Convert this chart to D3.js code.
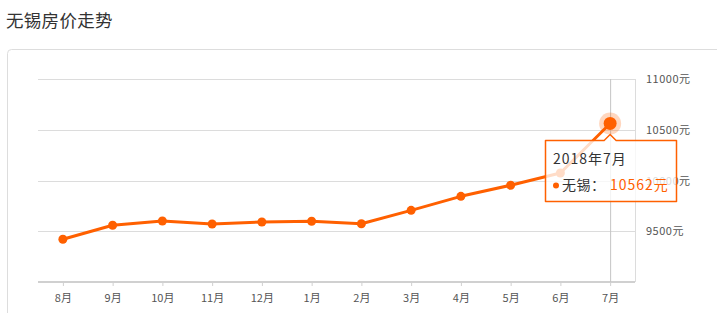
<!DOCTYPE html>
<html>
<head>
<meta charset="utf-8">
<script src="https://cdn.jsdelivr.net/npm/d3@7"></script>
<style>
  html, body { margin: 0; padding: 0; background: #fff; }
  svg { display: block; font-family: "Noto Sans CJK SC", "Noto Sans", sans-serif; }
</style>
</head>
<body>
<svg id="chart" width="717" height="313"></svg>
<script>
// chart data
const months = ["8月", "9月", "10月", "11月", "12月", "1月", "2月", "3月", "4月", "5月", "6月", "7月"];
const prices = [9421, 9559, 9601, 9571, 9591, 9598, 9574, 9706, 9844, 9953, 10074, 10562];
const yTicks = [9500, 10000, 10500, 11000];
const cityName = "无锡";
const tipTitle = "2018年7月";

const orange = "#ff6000";
const svg = d3.select("#chart");

// title + card frame
svg.append("text")
    .attr("x", 6).attr("y", 27)
    .attr("font-size", 17.5).attr("letter-spacing", 0.3).attr("fill", "#333")
    .text("无锡房价走势");

svg.append("rect")
    .attr("x", 7.5).attr("y", 49.5)
    .attr("width", 740).attr("height", 300)
    .attr("rx", 4)
    .attr("fill", "#fff").attr("stroke", "#ddd");

// scales
const x = d3.scalePoint().domain(months).range([38, 635]).padding(0.5);
const y = d3.scaleLinear().domain([9000, 11000]).range([282, 79]);

// horizontal grid
svg.append("g")
  .selectAll("line")
  .data(yTicks)
  .join("line")
    .attr("x1", 38).attr("x2", 635)
    .attr("y1", d => Math.round(y(d)) + 0.5)
    .attr("y2", d => Math.round(y(d)) + 0.5)
    .attr("stroke", "#dcdcdc");

// right border of plot
svg.append("line")
    .attr("x1", 635.5).attr("x2", 635.5)
    .attr("y1", 79).attr("y2", 282)
    .attr("stroke", "#dcdcdc");

// right axis labels
const yAxis = d3.axisRight(y).tickValues(yTicks).tickSize(0).tickPadding(0)
    .tickFormat(d => d + "元");
svg.append("g")
    .attr("transform", "translate(646,0)")
    .call(yAxis)
    .call(g => g.select(".domain").remove())
    .selectAll("text")
      .attr("font-size", 11).attr("letter-spacing", 0.5).attr("fill", "#555")
      .attr("font-family", "'Noto Sans CJK SC', sans-serif");

// bottom axis
const xAxis = d3.axisBottom(x).tickSize(4).tickSizeOuter(0).tickPadding(8);
svg.append("g")
    .attr("transform", "translate(0,282)")
    .call(xAxis)
    .call(g => g.select(".domain")
        .attr("d", "M38,0H635").attr("stroke", "#d0d0d0").attr("stroke-width", 2))
    .call(g => g.selectAll(".tick line").attr("stroke", "#d0d0d0"))
    .selectAll("text")
      .attr("font-size", 11).attr("fill", "#555")
      .attr("font-family", "'Noto Sans CJK SC', sans-serif");

// hover crosshair at last month
const last = months.length - 1;
svg.append("line")
    .attr("x1", x(months[last]) + 0.5).attr("x2", x(months[last]) + 0.5)
    .attr("y1", 79).attr("y2", 282)
    .attr("stroke", "#c4c4c4");

// series line
const line = d3.line()
    .x((d, i) => x(months[i]))
    .y(d => y(d));

svg.append("path")
    .datum(prices)
    .attr("d", line)
    .attr("fill", "none")
    .attr("stroke", orange)
    .attr("stroke-width", 3)
    .attr("stroke-linejoin", "round");

svg.append("g")
  .selectAll("circle")
  .data(prices)
  .join("circle")
    .attr("cx", (d, i) => x(months[i]))
    .attr("cy", d => y(d))
    .attr("r", 4.5)
    .attr("fill", orange);

// highlighted last point
const lx = x(months[last]), ly = y(prices[last]);
svg.append("circle")
    .attr("cx", lx).attr("cy", ly).attr("r", 11)
    .attr("fill", orange).attr("opacity", 0.25);
svg.append("circle")
    .attr("cx", lx).attr("cy", ly).attr("r", 6.5)
    .attr("fill", orange);

// tooltip
const tip = svg.append("g");
const bx = 545.5, by = 140.5, bw = 131, bh = 61, ax = lx;
tip.append("path")
    .attr("d", `M${bx},${by}H${ax - 6}L${ax},${by - 6}L${ax + 6},${by}H${bx + bw}V${by + bh}H${bx}Z`)
    .attr("fill", "rgba(255,255,255,0.78)")
    .attr("stroke", orange)
    .attr("stroke-width", 1.5)
    .attr("stroke-linejoin", "round");

tip.append("text")
    .attr("x", 553).attr("y", 164)
    .attr("font-size", 14).attr("letter-spacing", 1).attr("fill", "#333")
    .text(tipTitle);

tip.append("circle")
    .attr("cx", 556).attr("cy", 185.5).attr("r", 3)
    .attr("fill", orange);

tip.append("text")
    .attr("x", 562).attr("y", 190)
    .attr("font-size", 14).attr("letter-spacing", 0.5).attr("fill", "#333")
    .text(cityName + "：");

tip.append("text")
    .attr("x", 610).attr("y", 190)
    .attr("font-size", 14).attr("letter-spacing", 1).attr("fill", orange)
    .text(prices[last] + "元");
</script>
</body>
</html>
